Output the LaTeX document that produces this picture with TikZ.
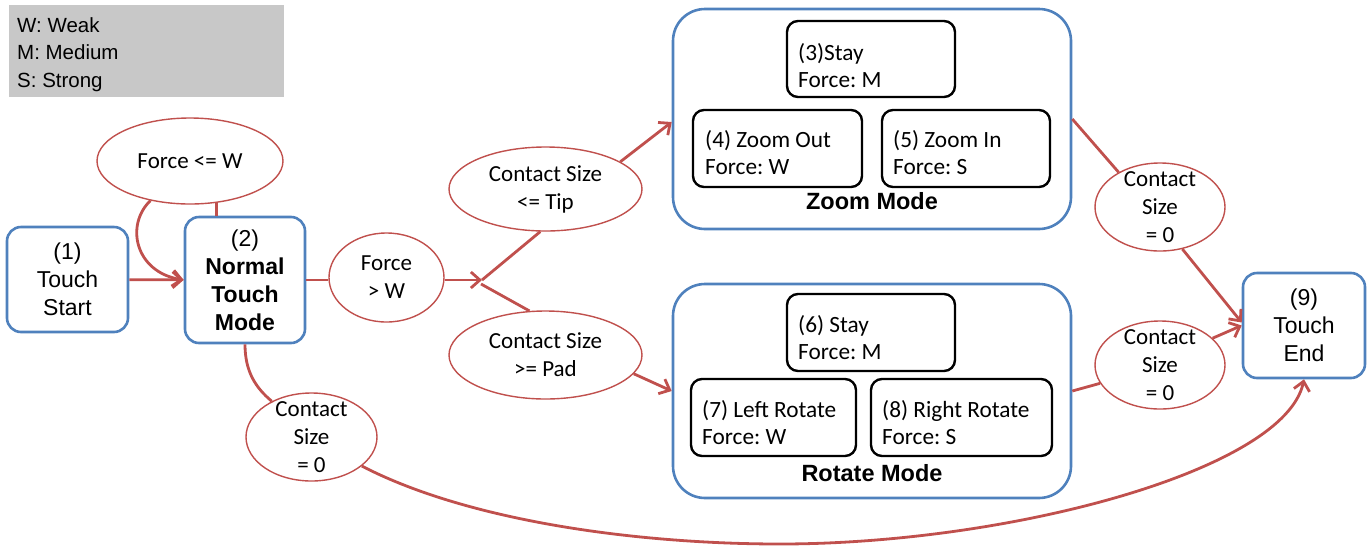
\documentclass[tikz,border=0pt]{standalone}
\usepackage{fontspec}
\usetikzlibrary{shapes.geometric,arrows.meta,calc}
\newfontfamily\calfont{Carlito}
\newfontfamily\arifont{Liberation Sans}
\definecolor{stateblue}{HTML}{4F81BD}
\definecolor{condred}{HTML}{C0504D}
\definecolor{legendgray}{HTML}{C8C8C8}
\frenchspacing

\begin{document}
\begin{tikzpicture}[x=1pt,y=-1pt,
  statebox/.style={draw=stateblue, line width=2.6pt, rounded corners=14pt, fill=white,
    align=center, inner sep=0pt, font=\arifont\fontsize{23}{28}\selectfont},
  modebox/.style={draw=stateblue, line width=2.6pt, rounded corners=32pt, inner sep=0pt},
  modelabel/.style={anchor=base, inner sep=0pt, font=\arifont\bfseries\fontsize{23.5}{26}\selectfont},
  subbox/.style={draw=black, line width=2.4pt, rounded corners=11pt, inner sep=0pt},
  subtext/.style={align=left, inner sep=0pt, anchor=west, font=\calfont\fontsize{23.3}{27}\selectfont},
  cond/.style={ellipse, draw=condred, line width=1.4pt, fill=white, inner sep=0pt,
    align=center, font=\calfont\fontsize{23}{28}\selectfont},
  tall/.style={inner sep=-10pt},
  link/.style={draw=condred, line width=2.8pt},
  flow/.style={link, -{Straight Barb[length=9pt,width=16pt]}},
]
\useasboundingbox (0,0) rectangle (1371,547);

% legend
\node[fill=legendgray, minimum width=275, minimum height=92, inner sep=0pt, anchor=north west] (legend) at (9,5) {};
\node[anchor=west, align=left, inner sep=0pt, font=\arifont\fontsize{20.5}{27.5}\selectfont] (legendtext) at (17,54.5) {W: Weak\\M: Medium\\S: Strong};

% main states
\node[statebox, minimum width=121, minimum height=105] (n1) at (67.5,279.5) {(1)\\Touch\\Start};
\node[statebox, minimum width=120, minimum height=126] (n2) at (245,280) {(2)\\\textbf{Normal}\\\textbf{Touch}\\\textbf{Mode}};
\node[statebox, minimum width=122, minimum height=105] (n9) at (1304,325.5) {(9)\\Touch\\End};

% zoom mode
\node[modebox, minimum width=398, minimum height=220] (zoom) at (872,119) {};
\node[modelabel] (zoomlabel) at (872,209) {Zoom Mode};
\node[subbox, minimum width=168, minimum height=76] (s3) at (871,59) {};
\node[subtext] (t3) at (798,66) {(3)Stay\\Force: M};
\node[subbox, minimum width=169, minimum height=77] (s4) at (777.5,148.5) {};
\node[subtext] (t4) at (705,153) {(4) Zoom Out\\Force: W};
\node[subbox, minimum width=168, minimum height=77] (s5) at (966,148.5) {};
\node[subtext] (t5) at (893,153) {(5) Zoom In\\Force: S};

% rotate mode
\node[modebox, minimum width=398, minimum height=214] (rotate) at (872,391) {};
\node[modelabel] (rotatelabel) at (872,481) {Rotate Mode};
\node[subbox, minimum width=168, minimum height=77] (s6) at (871,332.5) {};
\node[subtext] (t6) at (798,338) {(6) Stay\\Force: M};
\node[subbox, minimum width=165, minimum height=77] (s7) at (773.5,417.5) {};
\node[subtext] (t7) at (702,423) {(7) Left Rotate\\Force: W};
\node[subbox, minimum width=181, minimum height=77] (s8) at (961.5,417.5) {};
\node[subtext] (t8) at (882,423) {(8) Right Rotate\\Force: S};

% conditions
\node[cond, minimum width=186, minimum height=86] (fw) at (190,161) {Force <= W};
\node[cond, minimum width=115, minimum height=89] (fgt) at (386.5,277.5) {Force\\> W};
\node[cond, minimum width=193, minimum height=84] (tip) at (545.5,189) {Contact Size\\<= Tip};
\node[cond, minimum width=193, minimum height=88] (pad) at (545.5,355) {Contact Size\\>= Pad};
\node[cond, tall, minimum width=130, minimum height=88] (cz1) at (1160,207) {Contact\\Size\\= 0};
\node[cond, tall, minimum width=130, minimum height=88] (cz2) at (1160,365) {Contact\\Size\\= 0};
\node[cond, tall, minimum width=131, minimum height=88] (cb) at (311.5,437) {Contact\\Size\\= 0};

% transitions
\draw[flow] (n1) -- (n2);
\draw[link] (fw.-58) -- (fw.-58 |- n2.north);
\draw[flow] (fw.-135) .. controls (125,225) and (135,272) .. (n2.west);
\draw[link] (n2.east) -- (n2.east -| fgt.west);
\coordinate (j) at (482,280);
\coordinate (j2) at (481,284);
\draw[flow] (fgt.east |- j) -- (j);
\draw[link] (j) -- (tip.-97);
\draw[link] (j2) -- (pad.110);
\draw[flow] (tip.20) -- ($(zoom.west)+(0,3)$);
\draw[flow] (pad.-12) -- (rotate.west);
\draw[link] (zoom.east) -- (cz1.140);
\draw[flow] (cz1.-62) -- ($(n9.west)+(0,-3)$);
\draw[link] (rotate.east) -- (cz2.-163);
\draw[flow] (cz2.27) -- (n9.west);
\draw[link] (n2.south) .. controls (245,372) and (256,388) .. (cb.138);
\draw[flow] (cb.-30) .. controls (470,522) and (640,544) .. (780,544)
  .. controls (1010,544) and (1285,470) .. (n9.south);
\end{tikzpicture}
\end{document}
